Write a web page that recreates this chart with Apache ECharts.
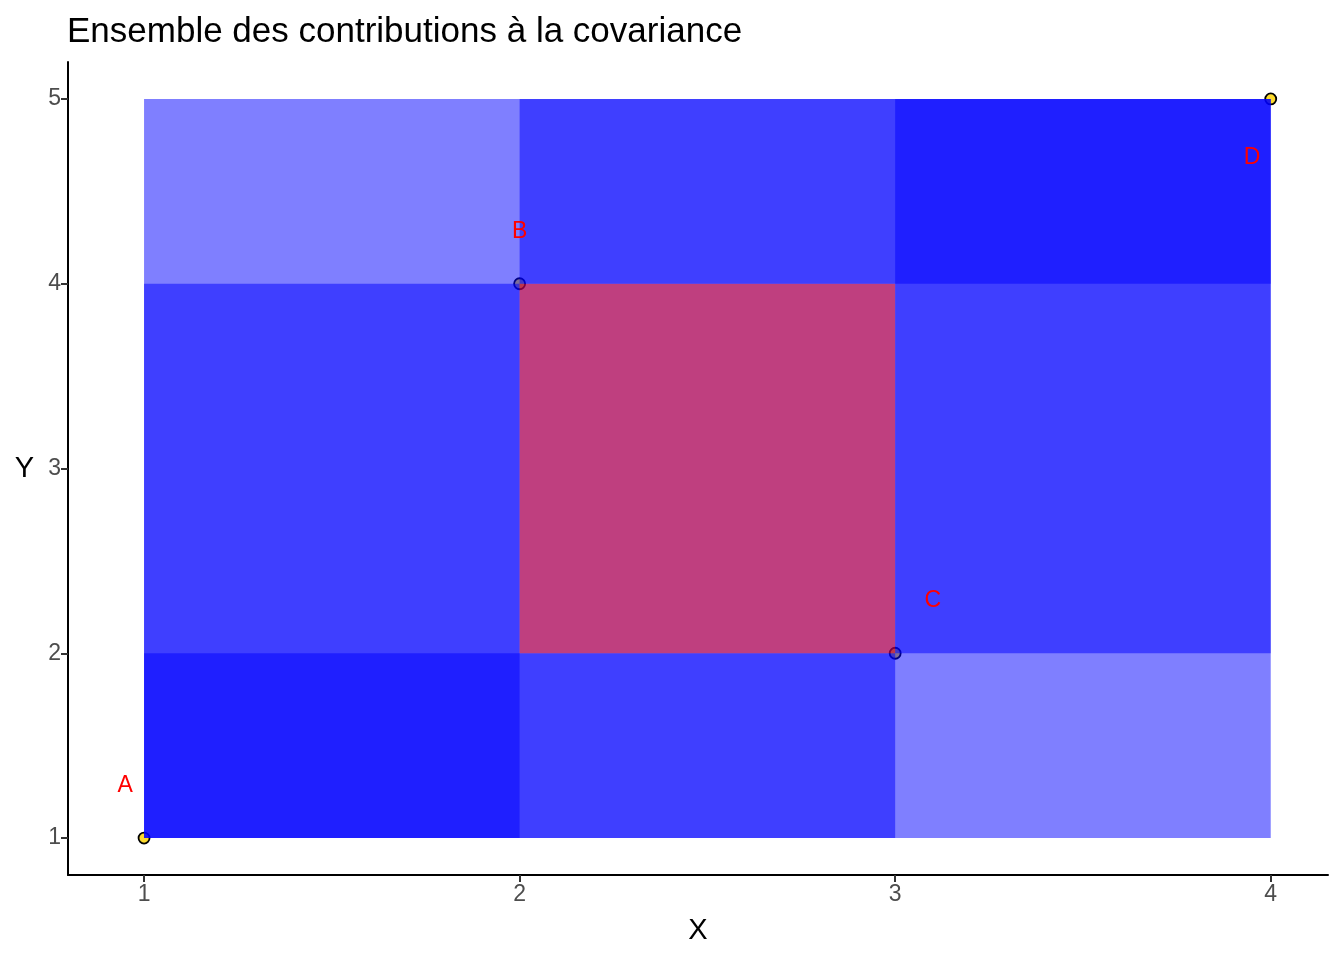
<!DOCTYPE html>
<html>
<head>
<meta charset="utf-8">
<script src="https://cdn.jsdelivr.net/npm/echarts@6/dist/echarts.min.js"></script>
<style>html,body{margin:0;padding:0;background:#fff}#c{width:1344px;height:960px}</style>
</head>
<body>
<div id="c"></div>
<script>
// Points
var pointNames = ['A', 'B', 'C', 'D'];
var pointX = [1, 2, 3, 4];
var pointY = [1, 4, 2, 5];
// Label positions (red letters)
var labelX = [0.95, 2, 3.1, 3.95];
var labelY = [1.3, 4.3, 2.3, 4.7];
// Tick labels
var xTicks = [1, 2, 3, 4];
var yTicks = [1, 2, 3, 4, 5];

// Rectangles for every pair of points (contribution to covariance)
var rects = [];
for (var i = 0; i < pointX.length; i++) {
  for (var j = i + 1; j < pointX.length; j++) {
    var s = (pointX[i] - pointX[j]) * (pointY[i] - pointY[j]);
    rects.push([
      Math.min(pointX[i], pointX[j]), Math.min(pointY[i], pointY[j]),
      Math.max(pointX[i], pointX[j]), Math.max(pointY[i], pointY[j]),
      s > 0 ? 1 : -1
    ]);
  }
}

var FONT = 'Liberation Sans, Arial, Helvetica, sans-serif';
var chart = echarts.init(document.getElementById('c'), null, {renderer: 'canvas'});
chart.setOption({
  animation: false,
  backgroundColor: '#ffffff',
  title: {
    text: 'Ensemble des contributions à la covariance',
    left: 62, top: 10,
    textStyle: {fontFamily: FONT, fontSize: 35, fontWeight: 'normal', color: '#000'}
  },
  grid: {left: 68, right: 16, top: 62, bottom: 85, containLabel: false},
  xAxis: {
    type: 'value', min: 0.7975, max: 4.1525,
    name: 'X', nameLocation: 'middle', nameGap: 41,
    nameTextStyle: {fontFamily: FONT, fontSize: 29, color: '#000'},
    axisLine: {show: true, onZero: false, lineStyle: {color: '#000', width: 2}},
    axisTick: {show: true, customValues: xTicks, length: 7, lineStyle: {color: '#333', width: 2}},
    axisLabel: {customValues: xTicks, color: '#4D4D4D', fontSize: 23, fontFamily: FONT, margin: 8},
    splitLine: {show: false}
  },
  yAxis: {
    type: 'value', min: 0.8, max: 5.2,
    name: 'Y', nameLocation: 'middle', nameGap: 34, nameRotate: 0,
    nameTextStyle: {fontFamily: FONT, fontSize: 29, color: '#000'},
    axisLine: {show: true, onZero: false, lineStyle: {color: '#000', width: 2}},
    axisTick: {show: true, customValues: yTicks, length: 7, lineStyle: {color: '#333', width: 2}},
    axisLabel: {customValues: yTicks, color: '#4D4D4D', fontSize: 23, fontFamily: FONT, margin: 7},
    splitLine: {show: false}
  },
  series: [
    {
      type: 'scatter', z: 1,
      data: pointX.map(function (x, k) { return [x, pointY[k]]; }),
      symbol: 'circle', symbolSize: 11,
      itemStyle: {color: '#FCDA2E', borderColor: '#000', borderWidth: 1.8, opacity: 1},
      silent: true
    },
    {
      type: 'custom', z: 2,
      data: rects,
      renderItem: function (params, api) {
        var p0 = api.coord([api.value(0), api.value(1)]);
        var p1 = api.coord([api.value(2), api.value(3)]);
        var pos = api.value(4) > 0;
        return {
          type: 'rect',
          shape: {x: Math.min(p0[0], p1[0]), y: Math.min(p0[1], p1[1]),
                  width: Math.abs(p1[0] - p0[0]), height: Math.abs(p1[1] - p0[1])},
          style: {fill: pos ? 'rgba(0,0,255,0.5)' : 'rgba(255,0,0,0.5)', stroke: null}
        };
      },
      silent: true
    },
    {
      type: 'custom', z: 3,
      data: labelX.map(function (x, k) { return [x, labelY[k], pointNames[k]]; }),
      renderItem: function (params, api) {
        var p = api.coord([api.value(0), api.value(1)]);
        return {
          type: 'text', x: p[0], y: p[1] + 3,
          style: {text: pointNames[params.dataIndex], fill: '#FF0000', font: '23px ' + FONT,
                  align: 'center', verticalAlign: 'middle'}
        };
      },
      silent: true
    }
  ]
});
</script>
</body>
</html>
